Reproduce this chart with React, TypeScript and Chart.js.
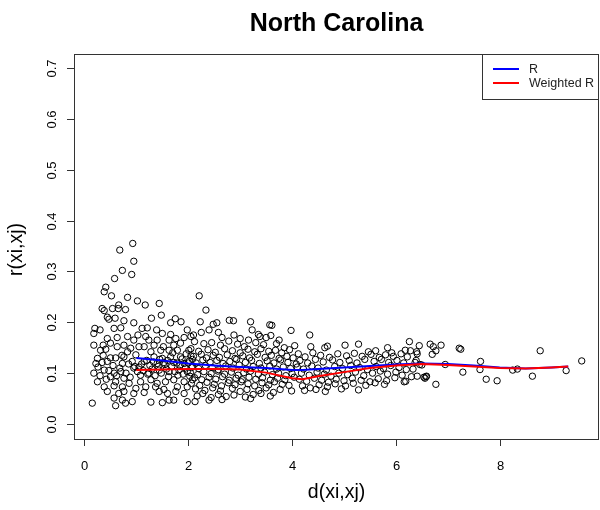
import React, { useEffect, useRef } from "react";
import { Chart, registerables } from "chart.js";

Chart.register(...registerables);

const chartTitle = "North Carolina";
const xAxisTitle = "d(xi,xj)";
const yAxisTitle = "r(xi,xj)";
const xTicks = [0, 2, 4, 6, 8];
const yTicks = [0, 0.1, 0.2, 0.3, 0.4, 0.5, 0.6, 0.7];
const xRange = [-0.202, 9.913];
const yRange = [-0.0295, 0.7275];

// distance / correlation pairs, x < 2.1
const pairsNear: [number, number][] = [
  [0.93, 0.355], [0.68, 0.342], [0.95, 0.32], [0.73, 0.302], [0.58, 0.286], [0.91, 0.294],
  [0.41, 0.269], [0.38, 0.26], [0.52, 0.252], [0.83, 0.249], [1.02, 0.242], [1.17, 0.234],
  [0.66, 0.234], [1.44, 0.237], [0.34, 0.227], [0.54, 0.227], [0.38, 0.223], [0.65, 0.227],
  [0.79, 0.225], [0.47, 0.206], [0.59, 0.208], [0.44, 0.21], [1.29, 0.208], [1.48, 0.214],
  [0.76, 0.203], [0.95, 0.199], [1.66, 0.199], [1.75, 0.207], [1.86, 0.201], [0.2, 0.188],
  [0.3, 0.185], [0.18, 0.178], [0.57, 0.188], [0.7, 0.189], [1.11, 0.188], [1.21, 0.189],
  [1.39, 0.185], [1.03, 0.175], [1.18, 0.172], [1.5, 0.178], [1.66, 0.176], [1.98, 0.185],
  [0.63, 0.17], [0.44, 0.168], [0.83, 0.172], [0.95, 0.165], [1.24, 0.165], [1.4, 0.165],
  [1.63, 0.165], [1.76, 0.168], [1.92, 0.17], [2.05, 0.172], [0.18, 0.155], [0.36, 0.155],
  [0.5, 0.159], [0.63, 0.152], [0.76, 0.155], [0.89, 0.149], [1.05, 0.152], [1.15, 0.152],
  [1.34, 0.155], [1.52, 0.152], [1.72, 0.155], [1.85, 0.159], [0.31, 0.145], [0.41, 0.147],
  [0.83, 0.142], [1.28, 0.142], [1.47, 0.145], [1.63, 0.145], [1.79, 0.145], [2.01, 0.145],
  [0.25, 0.129], [0.5, 0.13], [0.6, 0.13], [0.76, 0.132], [0.99, 0.136], [1.34, 0.132],
  [1.5, 0.129], [1.66, 0.132], [1.85, 0.132], [2.05, 0.134], [0.22, 0.119], [0.34, 0.121],
  [0.44, 0.123], [0.73, 0.119], [0.92, 0.123], [1.15, 0.123], [1.4, 0.119], [1.53, 0.121],
  [1.72, 0.121], [1.92, 0.119], [0.18, 0.1], [0.38, 0.106], [0.57, 0.1], [0.7, 0.103],
  [0.95, 0.11], [1.02, 0.103], [1.08, 0.096], [1.24, 0.1], [1.44, 0.106], [1.63, 0.103],
  [1.82, 0.106], [1.98, 0.103], [0.25, 0.083], [0.5, 0.093], [0.6, 0.083], [0.76, 0.09],
  [0.86, 0.08], [1.08, 0.083], [1.28, 0.087], [1.4, 0.08], [1.56, 0.083], [1.72, 0.087],
  [1.92, 0.083], [2.08, 0.087], [0.38, 0.073], [0.57, 0.075], [0.73, 0.073], [0.99, 0.07],
  [1.18, 0.073], [1.37, 0.073], [1.53, 0.068], [1.79, 0.073], [1.98, 0.073], [0.44, 0.064],
  [0.66, 0.06], [0.76, 0.064], [0.95, 0.06], [1.15, 0.062], [1.44, 0.064], [1.6, 0.06],
  [1.76, 0.064], [1.92, 0.06], [0.57, 0.051], [0.73, 0.047], [0.92, 0.044], [1.28, 0.043],
  [1.5, 0.042], [1.63, 0.047], [1.72, 0.047], [1.98, 0.044], [0.15, 0.041], [0.6, 0.036],
  [0.79, 0.041], [1.05, 0.112], [1.1, 0.118], [1.13, 0.105], [1.2, 0.125], [1.22, 0.098],
  [1.26, 0.115], [1.3, 0.108], [1.33, 0.122], [1.36, 0.095], [1.42, 0.113], [1.45, 0.127],
  [1.48, 0.1], [1.55, 0.117], [1.58, 0.108], [1.6, 0.125], [1.62, 0.093], [1.68, 0.113],
  [1.7, 0.14], [1.74, 0.103], [1.78, 0.12], [1.8, 0.096], [1.84, 0.115], [1.88, 0.128],
  [1.9, 0.098], [1.94, 0.11], [1.96, 0.138], [2.0, 0.12], [2.03, 0.094], [2.06, 0.111],
  [2.08, 0.127], [0.55, 0.115], [0.62, 0.095], [0.68, 0.11], [0.72, 0.135], [0.8, 0.1],
  [0.85, 0.118], [0.88, 0.092], [0.97, 0.113], [0.3, 0.095], [0.42, 0.088], [0.47, 0.105],
  [0.36, 0.135], [0.26, 0.112],
];

// x between 2.1 and 4.1
const pairsMid: [number, number][] = [
  [2.21, 0.252], [2.34, 0.224], [2.23, 0.201], [2.48, 0.196], [2.55, 0.199], [2.79, 0.204],
  [2.87, 0.203], [3.2, 0.201], [2.58, 0.18], [3.23, 0.185], [3.57, 0.195], [3.61, 0.194],
  [3.98, 0.184], [2.1, 0.175], [2.88, 0.175], [3.35, 0.176], [3.38, 0.172], [3.59, 0.174],
  [3.16, 0.165], [2.4, 0.185], [2.65, 0.17], [3.0, 0.168], [3.5, 0.17], [3.75, 0.165],
  [2.25, 0.18],
  [2.12, 0.162], [2.3, 0.158], [2.45, 0.16], [2.62, 0.155], [2.78, 0.163], [2.95, 0.157],
  [3.08, 0.152], [3.3, 0.16], [3.45, 0.156], [3.7, 0.158], [3.85, 0.15], [4.05, 0.154],
  [2.05, 0.148], [2.2, 0.143], [2.38, 0.146], [2.52, 0.141], [2.7, 0.148], [2.85, 0.144],
  [3.0, 0.14], [3.15, 0.147], [3.28, 0.142], [3.4, 0.148], [3.55, 0.143], [3.68, 0.145],
  [3.8, 0.14], [3.95, 0.146], [2.1, 0.133], [2.25, 0.137], [2.35, 0.13], [2.48, 0.135],
  [2.6, 0.131], [2.75, 0.136], [2.9, 0.129], [3.05, 0.134], [3.18, 0.13], [3.33, 0.137],
  [3.48, 0.131], [3.6, 0.135], [3.75, 0.129], [3.9, 0.133], [4.02, 0.13], [2.02, 0.124],
  [2.15, 0.12], [2.28, 0.126], [2.42, 0.121], [2.55, 0.125], [2.67, 0.119], [2.8, 0.123],
  [2.93, 0.127], [3.1, 0.121], [3.22, 0.125], [3.37, 0.119], [3.52, 0.124], [3.65, 0.12],
  [3.78, 0.126], [3.92, 0.121], [4.08, 0.118], [2.08, 0.113], [2.2, 0.109], [2.33, 0.115],
  [2.46, 0.111], [2.58, 0.107], [2.72, 0.114], [2.86, 0.11], [2.98, 0.116], [3.12, 0.108],
  [3.25, 0.113], [3.4, 0.11], [3.57, 0.114], [3.7, 0.108], [3.83, 0.112], [3.97, 0.109],
  [2.04, 0.101], [2.18, 0.097], [2.3, 0.103], [2.44, 0.099], [2.57, 0.104], [2.7, 0.098],
  [2.83, 0.102], [2.96, 0.096], [3.07, 0.101], [3.2, 0.104], [3.35, 0.098], [3.47, 0.102],
  [3.62, 0.097], [3.74, 0.1], [3.88, 0.095], [4.0, 0.099], [2.12, 0.091], [2.26, 0.087],
  [2.4, 0.092], [2.53, 0.088], [2.66, 0.093], [2.79, 0.086], [2.92, 0.09], [3.04, 0.087],
  [3.17, 0.092], [3.3, 0.088], [3.43, 0.091], [3.58, 0.086], [3.72, 0.09], [3.86, 0.087],
  [4.04, 0.092], [2.06, 0.08], [2.22, 0.076], [2.36, 0.082], [2.5, 0.078], [2.64, 0.075],
  [2.77, 0.081], [2.9, 0.077], [3.02, 0.083], [3.15, 0.079], [3.28, 0.075], [3.42, 0.081],
  [3.55, 0.077], [3.66, 0.083], [3.81, 0.078], [3.94, 0.076], [2.14, 0.069], [2.32, 0.066],
  [2.47, 0.071], [2.62, 0.065], [2.85, 0.07], [3.0, 0.064], [3.13, 0.068], [3.36, 0.066],
  [3.5, 0.071], [3.64, 0.062], [3.77, 0.068], [3.99, 0.065], [2.17, 0.055], [2.28, 0.06],
  [2.44, 0.052], [2.58, 0.058], [2.73, 0.054], [2.88, 0.057], [3.1, 0.053], [3.25, 0.058],
  [3.4, 0.06], [3.58, 0.055], [2.13, 0.044], [2.4, 0.047], [2.65, 0.048], [3.2, 0.05],
];

// x between 4.1 and 6.3
const pairsFar: [number, number][] = [
  [4.34, 0.175], [5.02, 0.155], [5.28, 0.157], [6.26, 0.162], [4.63, 0.15], [4.68, 0.153],
  [4.36, 0.152], [5.61, 0.144], [5.47, 0.142], [5.84, 0.15], [6.18, 0.145], [5.92, 0.14],
  [4.12, 0.138], [4.25, 0.132], [4.4, 0.14], [4.55, 0.135], [4.72, 0.131], [4.88, 0.138],
  [5.05, 0.134], [5.2, 0.139], [5.35, 0.133], [5.52, 0.137], [5.68, 0.131], [5.8, 0.136],
  [5.95, 0.133], [6.1, 0.138], [6.22, 0.132], [4.15, 0.125], [4.3, 0.12], [4.45, 0.127],
  [4.6, 0.122], [4.78, 0.126], [4.92, 0.121], [5.1, 0.125], [5.25, 0.12], [5.4, 0.127],
  [5.58, 0.123], [5.72, 0.127], [5.86, 0.121], [6.02, 0.125], [6.15, 0.12], [4.1, 0.112],
  [4.22, 0.108], [4.38, 0.114], [4.5, 0.11], [4.66, 0.106], [4.82, 0.113], [4.97, 0.109],
  [5.13, 0.115], [5.3, 0.111], [5.45, 0.107], [5.62, 0.113], [5.76, 0.109], [5.9, 0.115],
  [6.06, 0.111], [6.2, 0.107], [4.18, 0.1], [4.33, 0.096], [4.48, 0.102], [4.62, 0.098],
  [4.75, 0.094], [4.9, 0.1], [5.07, 0.097], [5.22, 0.102], [5.38, 0.095], [5.55, 0.1],
  [5.7, 0.104], [5.84, 0.098], [6.0, 0.102], [6.12, 0.096], [4.14, 0.088], [4.28, 0.084],
  [4.43, 0.09], [4.57, 0.086], [4.7, 0.082], [4.85, 0.088], [5.0, 0.085], [5.16, 0.09],
  [5.33, 0.086], [5.5, 0.083], [5.66, 0.089], [5.82, 0.085], [5.98, 0.091], [4.2, 0.075],
  [4.35, 0.071], [4.52, 0.077], [4.68, 0.073], [4.83, 0.079], [5.03, 0.075], [5.18, 0.08],
  [5.42, 0.076], [5.6, 0.081], [5.78, 0.078], [4.24, 0.066], [4.46, 0.068], [4.64, 0.064],
  [4.95, 0.069], [5.28, 0.067], [6.16, 0.083], [6.19, 0.084],
];

// x above 6.3
const pairsTail: [number, number][] = [
  [6.45, 0.154], [6.66, 0.157], [6.72, 0.152], [6.87, 0.155], [6.77, 0.144], [6.7, 0.137],
  [6.4, 0.142], [6.41, 0.138], [6.28, 0.144], [7.25, 0.147], [8.78, 0.144], [9.58, 0.124],
  [6.39, 0.125], [6.37, 0.121], [6.5, 0.116], [6.95, 0.117], [7.63, 0.123], [7.62, 0.107],
  [7.29, 0.102], [7.74, 0.088], [7.95, 0.085], [8.25, 0.106], [8.34, 0.108], [8.63, 0.094],
  [9.28, 0.105], [6.77, 0.078], [6.3, 0.093], [6.41, 0.094], [6.54, 0.092], [6.59, 0.094],
  [6.56, 0.09], [6.33, 0.108], [6.46, 0.117], [6.58, 0.093], [7.22, 0.149],
];

const curveX = [1.0, 1.5, 2.0, 2.5, 3.0, 3.5, 4.0, 4.2, 4.5, 5.0, 5.5, 6.0, 6.5, 7.0, 7.5, 8.0, 8.5, 9.0, 9.32];
const curveR = [0.13, 0.125, 0.119, 0.115, 0.112, 0.11, 0.106, 0.106, 0.108, 0.111, 0.114, 0.117, 0.119, 0.118, 0.115, 0.111, 0.109, 0.111, 0.113];
const curveWeighted = [0.106, 0.107, 0.108, 0.108, 0.107, 0.101, 0.09, 0.088, 0.094, 0.102, 0.11, 0.115, 0.118, 0.116, 0.113, 0.11, 0.109, 0.111, 0.113];

const legendLabels = ["R", "Weighted R"];
const legendColors = ["#0000ff", "#ff0000"];

const FONT = "'Liberation Sans', Arial, Helvetica, sans-serif";

const axesPlugin = {
  id: "rAxes",
  afterDraw(chart: any) {
    const { ctx, chartArea, scales } = chart;
    const xs = scales.x;
    const ys = scales.y;
    ctx.save();
    ctx.strokeStyle = "#333";
    ctx.lineWidth = 1;
    ctx.strokeRect(chartArea.left + 0.5, chartArea.top + 0.5, chartArea.right - chartArea.left - 1, chartArea.bottom - chartArea.top);

    ctx.fillStyle = "#000";
    ctx.font = `13px ${FONT}`;
    ctx.textAlign = "center";
    ctx.textBaseline = "middle";
    xTicks.forEach((v) => {
      const px = Math.round(xs.getPixelForValue(v)) + 0.5;
      ctx.beginPath();
      ctx.moveTo(px, chartArea.bottom);
      ctx.lineTo(px, chartArea.bottom + 7);
      ctx.stroke();
      ctx.fillText(String(v), px, 466);
    });
    yTicks.forEach((v) => {
      const py = Math.round(ys.getPixelForValue(v)) + 0.5;
      ctx.beginPath();
      ctx.moveTo(chartArea.left, py);
      ctx.lineTo(chartArea.left - 7, py);
      ctx.stroke();
      ctx.save();
      ctx.translate(52, py);
      ctx.rotate(-Math.PI / 2);
      ctx.fillText(v.toFixed(1), 0, 0);
      ctx.restore();
    });

    ctx.font = `19.5px ${FONT}`;
    ctx.fillText(xAxisTitle, (chartArea.left + chartArea.right) / 2, 493);
    ctx.save();
    ctx.translate(17, (chartArea.top + chartArea.bottom) / 2 + 3);
    ctx.rotate(-Math.PI / 2);
    ctx.fillText(yAxisTitle, 0, 0);
    ctx.restore();

    ctx.font = `bold 25px ${FONT}`;
    ctx.textBaseline = "alphabetic";
    ctx.fillText(chartTitle, (chartArea.left + chartArea.right) / 2, 31);

    // legend
    const lx = 482;
    ctx.fillStyle = "#fff";
    ctx.fillRect(lx, chartArea.top + 1, chartArea.right - lx - 1, 45);
    ctx.strokeStyle = "#333";
    ctx.strokeRect(lx + 0.5, chartArea.top + 0.5, chartArea.right - lx - 1, 45);
    ctx.font = `12.5px ${FONT}`;
    ctx.textAlign = "left";
    ctx.textBaseline = "middle";
    legendLabels.forEach((lab, i) => {
      const y = 69 + i * 14;
      ctx.strokeStyle = legendColors[i];
      ctx.lineWidth = 2;
      ctx.beginPath();
      ctx.moveTo(493, y);
      ctx.lineTo(519, y);
      ctx.stroke();
      ctx.fillStyle = "#222";
      ctx.fillText(lab, 529, y + 1);
    });
    ctx.restore();
  },
};

export default function App() {
  const ref = useRef<HTMLCanvasElement | null>(null);
  useEffect(() => {
    document.body.style.margin = "0";
    if (!ref.current) return;
    const allPairs = [...pairsNear, ...pairsMid, ...pairsFar, ...pairsTail];
    const chart = new Chart(ref.current, {
      type: "scatter",
      data: {
        datasets: [
          {
            label: legendLabels[1],
            data: curveX.map((x, i) => ({ x, y: curveWeighted[i] })),
            showLine: true,
            borderColor: legendColors[1],
            borderWidth: 2,
            pointRadius: 0,
            fill: false,
            order: 0,
          } as any,
          {
            label: legendLabels[0],
            data: curveX.map((x, i) => ({ x, y: curveR[i] })),
            showLine: true,
            borderColor: legendColors[0],
            borderWidth: 2,
            pointRadius: 0,
            fill: false,
            order: 1,
          } as any,
          {
            label: "pairs",
            data: allPairs.map(([x, y]) => ({ x, y })),
            pointRadius: 3.2,
            pointStyle: "circle",
            backgroundColor: "rgba(0,0,0,0)",
            borderColor: "#000",
            borderWidth: 1,
            order: 2,
          } as any,
        ],
      },
      options: {
        animation: false,
        responsive: false,
        devicePixelRatio: 1,
        layout: { autoPadding: false, padding: { left: 74, top: 54, right: 1, bottom: 71 } },
        plugins: { legend: { display: false }, tooltip: { enabled: false }, title: { display: false } },
        scales: {
          x: { type: "linear", min: xRange[0], max: xRange[1], display: false },
          y: { type: "linear", min: yRange[0], max: yRange[1], display: false },
        },
      },
      plugins: [axesPlugin],
    });
    return () => chart.destroy();
  }, []);
  return (
    <div style={{ width: 600, height: 510, background: "#fff" }}>
      <canvas ref={ref} width={600} height={510} />
    </div>
  );
}
